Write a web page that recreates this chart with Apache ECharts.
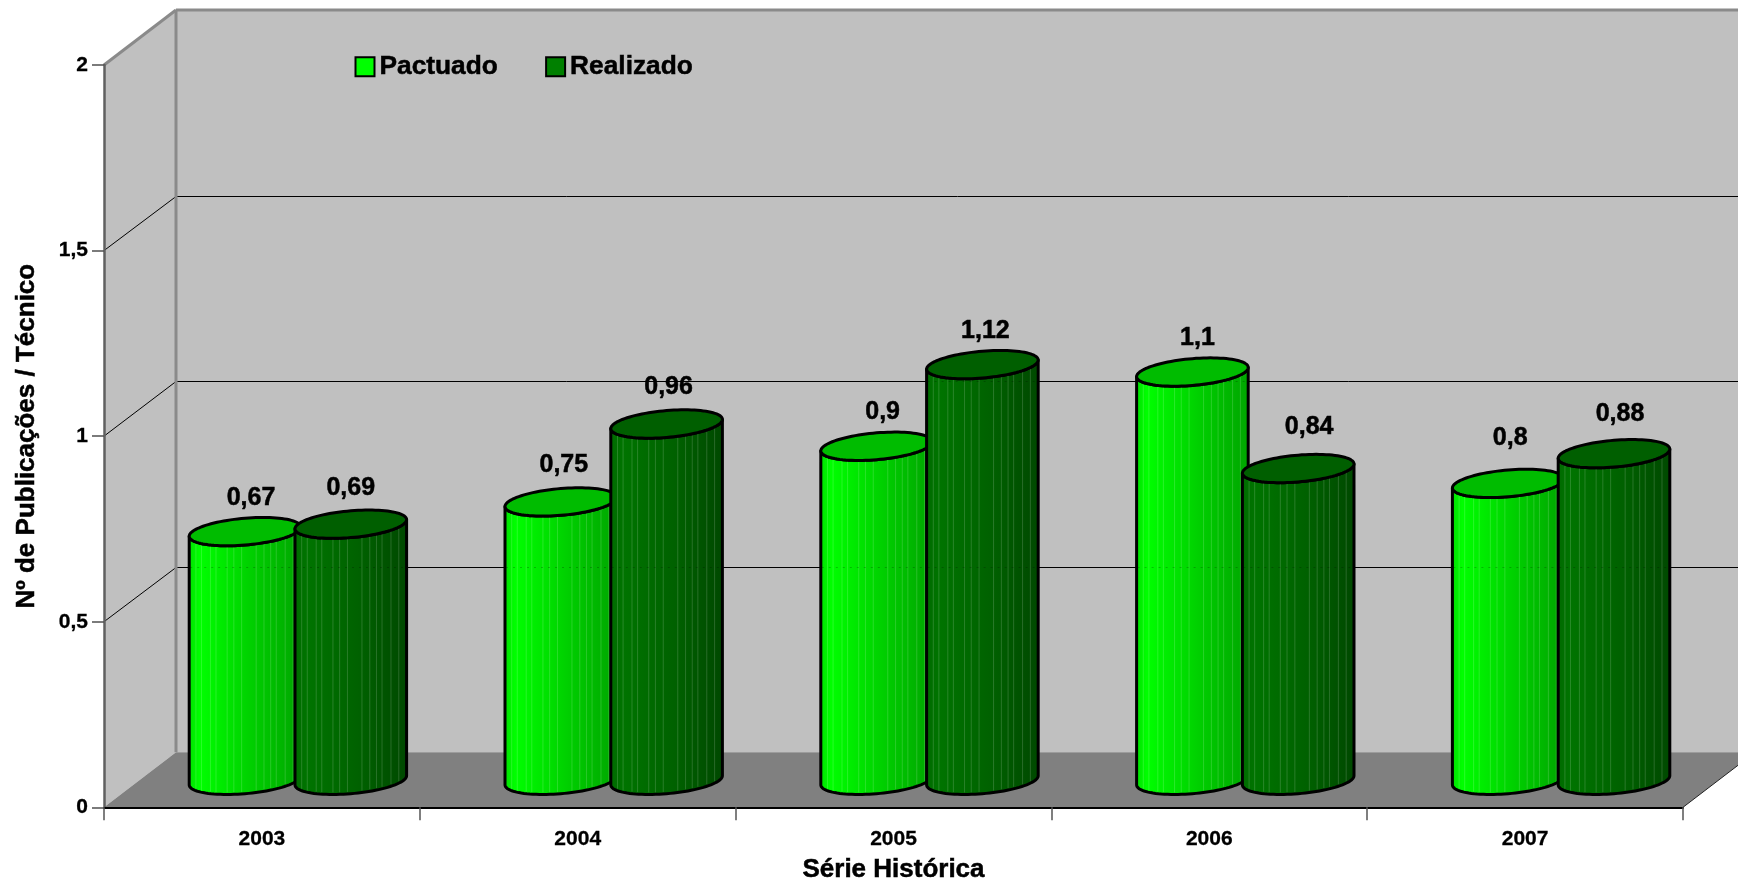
<!DOCTYPE html>
<html>
<head>
<meta charset="utf-8">
<style>html,body{margin:0;padding:0;background:#fff}#c{width:1738px;height:881px}</style>
<script src="https://cdn.jsdelivr.net/npm/echarts@6/dist/echarts.min.js"></script>
</head>
<body>
<div id="c"></div>
<script>
const categories = ['2003', '2004', '2005', '2006', '2007'];
const pactuado = [0.67, 0.75, 0.9, 1.1, 0.8];
const realizado = [0.69, 0.96, 1.12, 0.84, 0.88];
const yTicks = [0.5, 1, 1.5, 2];
const labelNudgeP = [[3, 2], [0, -1], [3, 2], [2, 2], [-1, -9]];
const labelNudgeR = [[-3, 0], [-1, -1], [0, 2], [8, -5], [3, -4]];
const FONT = '"Liberation Sans", Arial, sans-serif';
const DX = 72, DY = -55, BAR_DX = 36, BAR_DY = -27;
const stripeStops = [0.06, 0.11, 0.19, 0.24, 0.34, 0.40, 0.47, 0.60, 0.67, 0.73, 0.78, 0.86, 0.93];
const fmt = v => String(v).replace('.', ',');

const chart = echarts.init(document.getElementById('c'), null, {renderer: 'canvas'});

function renderWalls(params, api) {
  const cs = params.coordSys;
  const L = cs.x, R = cs.x + cs.width, T = cs.y, B = cs.y + cs.height;
  const kids = [];
  const poly = (pts, fill) => kids.push({type: 'polygon', shape: {points: pts}, style: {fill: fill, stroke: null}});
  const line = (x1, y1, x2, y2, stroke, w) => kids.push({type: 'line', shape: {x1, y1, x2, y2}, style: {stroke, lineWidth: w}});
  poly([[L + DX, T + DY], [R + DX, T + DY], [R + DX, B + DY], [L + DX, B + DY]], '#c0c0c0');
  poly([[L, T], [L + DX, T + DY], [L + DX, B + DY], [L, B]], '#c0c0c0');
  poly([[L, B], [L + DX, B + DY], [R + DX, B + DY], [R, B]], '#808080');
  yTicks.forEach(v => {
    const y = api.coord([0, v])[1];
    if (v < 2) {
      const by = Math.round(y + DY) + 0.5;
      line(L, y, L + DX, by, '#000', 1);
      line(L + DX, by, R + DX, by, '#000', 1);
    }
  });
  line(L + DX, T + DY, R + DX, T + DY, '#8a8a8a', 3);
  line(L, T, L + DX, T + DY, '#8a8a8a', 3);
  line(L + DX, T + DY, L + DX, B + DY, '#8a8a8a', 3);
  line(R, B, R + DX, B + DY, '#222', 1);
  return {type: 'group', children: kids};
}

function makeCylinder(side, stops, topFill, nudges) {
  return function (params, api) {
    const i = api.value(0), v = api.value(1);
    const band = api.size([1, 0])[0];
    const base = api.coord([i, 0]);
    const top = api.coord([i, v]);
    const cx = base[0] + BAR_DX + side * band * 0.1675;
    const by = base[1] + BAR_DY;
    const ty = top[1] + BAR_DY;
    const a = band * 0.1767, k = 4.6, b = 13.4;
    const pt = (t, cy) => [cx + a * Math.cos(t), cy - k * Math.cos(t) + b * Math.sin(t)];
    const N = 48;
    const lowerBottom = [], lowerTop = [], full = [];
    for (let n = 0; n <= N; n++) {
      const t = Math.PI * n / N;
      lowerTop.push(pt(t, ty));
      lowerBottom.push(pt(Math.PI - t, by));
    }
    for (let n = 0; n < N * 2; n++) full.push(pt(Math.PI * n / N, ty));
    const kids = [];
    kids.push({
      type: 'polygon',
      shape: {points: lowerBottom.concat(lowerTop)},
      style: {
        fill: new echarts.graphic.LinearGradient(0, 0, 1, 0, stops),
        stroke: '#000', lineWidth: 3, lineJoin: 'round'
      }
    });
    stripeStops.forEach(f => {
      const x = cx - a + 2 * a * f;
      const t = Math.acos((x - cx) / a);
      const p1 = pt(t, ty), p2 = pt(t, by);
      kids.push({type: 'line', shape: {x1: x, y1: p1[1], x2: x, y2: p2[1] - 2},
        style: {stroke: 'rgba(255,255,255,0.16)', lineWidth: 1}});
    });
    yTicks.forEach(tv => {
      const y = Math.round(api.coord([0, tv])[1] + DY) + 0.5;
      if (y > ty && y < by) {
        kids.push({type: 'line', shape: {x1: cx - a + 1, y1: y, x2: cx + a - 1, y2: y},
          style: {stroke: 'rgba(0,0,0,0.22)', lineWidth: 1, lineDash: [2, 5]}});
      }
    });
    kids.push({type: 'polygon', shape: {points: full},
      style: {fill: topFill, stroke: '#000', lineWidth: 3, lineJoin: 'round'}});
    const nudge = nudges[params.dataIndex];
    kids.push({type: 'text', style: {
      text: fmt(v), x: cx + 3 + nudge[0], y: ty - 36 + nudge[1], align: 'center', verticalAlign: 'middle',
      font: 'bold 25px ' + FONT, fill: '#000', stroke: '#000', lineWidth: 0.5
    }});
    return {type: 'group', children: kids};
  };
}

const greenStops = [
  {offset: 0, color: '#00dc00'}, {offset: 0.1, color: '#00ff00'},
  {offset: 0.55, color: '#00d000'}, {offset: 1, color: '#00a400'}
];
const darkStops = [
  {offset: 0, color: '#006a00'}, {offset: 0.12, color: '#007400'},
  {offset: 0.6, color: '#006000'}, {offset: 1, color: '#004800'}
];

chart.setOption({
  animation: false,
  backgroundColor: '#fff',
  grid: {left: 104, right: 55, top: 65, height: 742.3, outerBoundsMode: 'none'},
  legend: {
    data: ['Pactuado', 'Realizado'], left: 349.5, top: 48.5, icon: 'rect',
    itemWidth: 19, itemHeight: 19, itemGap: 47, selectedMode: false,
    itemStyle: {borderColor: '#000', borderWidth: 2},
    textStyle: {fontFamily: FONT, fontWeight: 'bold', fontSize: 26.3, color: '#000', textBorderColor: '#000', textBorderWidth: 0.5}
  },
  xAxis: {
    type: 'category', data: categories, boundaryGap: true, z: 10,
    axisLine: {lineStyle: {color: '#000', width: 2}},
    axisTick: {show: true, length: 13, lineStyle: {color: '#555', width: 1.5}},
    axisLabel: {fontFamily: FONT, fontWeight: 'bold', fontSize: 21, color: '#000', margin: 21, interval: 0, textBorderColor: '#000', textBorderWidth: 0.3},
    name: 'Série Histórica', nameLocation: 'middle', nameGap: 50,
    nameTextStyle: {fontFamily: FONT, fontWeight: 'bold', fontSize: 26, color: '#000', textBorderColor: '#000', textBorderWidth: 0.5}
  },
  yAxis: {
    type: 'value', min: 0, max: 2, interval: 0.5, z: 10,
    axisLine: {show: true, lineStyle: {color: '#606060', width: 2.5}},
    axisTick: {show: true, length: 12, lineStyle: {color: '#505050', width: 1.5}},
    axisLabel: {fontFamily: FONT, fontWeight: 'bold', fontSize: 21, color: '#000', margin: 16, formatter: fmt, textBorderColor: '#000', textBorderWidth: 0.3},
    splitLine: {show: false},
    name: 'Nº de Publicações / Técnico', nameLocation: 'middle', nameGap: 64, nameRotate: 90,
    nameTextStyle: {fontFamily: FONT, fontWeight: 'bold', fontSize: 26, color: '#000', textBorderColor: '#000', textBorderWidth: 0.5}
  },
  series: [
    {type: 'custom', silent: true, z: 1, data: [[0, 0]], renderItem: renderWalls, clip: false},
    {type: 'custom', name: 'Pactuado', silent: true, z: 3, itemStyle: {color: '#00ff00'},
      data: pactuado.map((v, i) => [i, v]), renderItem: makeCylinder(-1, greenStops, '#00bc00', labelNudgeP), clip: false},
    {type: 'custom', name: 'Realizado', silent: true, z: 4, itemStyle: {color: '#008000'},
      data: realizado.map((v, i) => [i, v]), renderItem: makeCylinder(1, darkStops, '#005f00', labelNudgeR), clip: false}
  ]
});
</script>
</body>
</html>
